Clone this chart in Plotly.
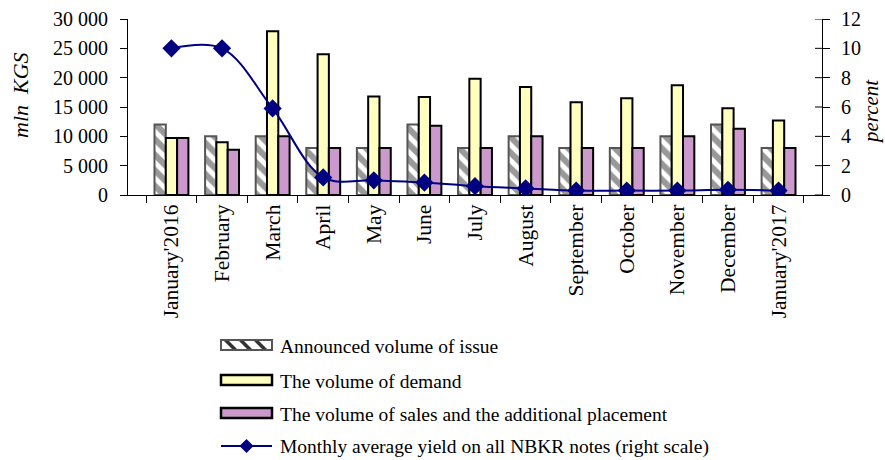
import plotly.graph_objects as go

months = ["January'2016", "February", "March", "April", "May", "June", "July",
          "August", "September", "October", "November", "December", "January'2017"]
announced = [12000, 10000, 10000, 8000, 8000, 12000, 8000, 10000, 8000, 8000, 10000, 12000, 8000]
demand = [9700, 9000, 27900, 24000, 16800, 16700, 19800, 18400, 15800, 16500, 18700, 14800, 12700]
sales = [9700, 7700, 10000, 8000, 8000, 11800, 8000, 10000, 8000, 8000, 10000, 11300, 8000]
yield_pct = [10.0, 10.0, 5.9, 1.2, 1.0, 0.85, 0.6, 0.45, 0.3, 0.3, 0.3, 0.35, 0.3]
pct_ticks = [0, 2, 4, 6, 8, 10, 12]

legend_labels = ["Announced volume of issue",
                 "The volume of demand",
                 "The volume of sales and the additional placement",
                 "Monthly average yield on all NBKR notes (right scale)"]

FONT = "Liberation Serif, Times New Roman, serif"
W, H = 885, 460
L, R, T, B = 128, 822, 19, 195          # plot area in pixels
NAVY = "#000080"
HATCH = "#333333"

def px(x):
    return (x - L) / (R - L)

def py(y):
    return (B - y) / (B - T)

fig = go.Figure()
fig.add_trace(go.Bar(
    x=months, y=announced, name=legend_labels[0],
    marker=dict(color="white", line=dict(color="#555555", width=2),
                pattern=dict(shape="\\", fgcolor=HATCH, bgcolor="white",
                             size=11, solidity=0.55)),
))
fig.add_trace(go.Bar(
    x=months, y=demand, name=legend_labels[1],
    marker=dict(color="#FFFFC0", line=dict(color="black", width=2)),
))
fig.add_trace(go.Bar(
    x=months, y=sales, name=legend_labels[2],
    marker=dict(color="#CC99CC", line=dict(color="black", width=2)),
))
fig.add_trace(go.Scatter(
    x=months, y=yield_pct, yaxis="y2", mode="lines+markers", name=legend_labels[3],
    line=dict(color=NAVY, width=2, shape="spline", smoothing=1),
    marker=dict(symbol="diamond", size=14, color=NAVY),
))

shapes = []
annotations = []

# inner half of the right-hand ticks (the axis draws the outer half)
for v in pct_ticks:
    shapes.append(dict(type="line", xref="paper", yref="y2", x0=px(R - 7), x1=1,
                       y0=v, y1=v, line=dict(color="black", width=1)))

# hand-drawn legend below the chart
rows = [345, 380, 413, 446]
sx0, sx1 = 221, 272
shapes.append(dict(type="rect", xref="paper", yref="paper",
                   x0=px(sx0), x1=px(sx1), y0=py(rows[0] + 5), y1=py(rows[0] - 5),
                   fillcolor="white", line=dict(color="#555555", width=2), layer="above"))
for s in (224, 239, 254):
    path = (f"M {px(s)},{py(rows[0] - 4)} L {px(s + 5)},{py(rows[0] - 4)} "
            f"L {px(s + 13)},{py(rows[0] + 4)} L {px(s + 8)},{py(rows[0] + 4)} Z")
    shapes.append(dict(type="path", xref="paper", yref="paper", path=path,
                       fillcolor=HATCH, line=dict(width=0), layer="above"))
for yy, fill in ((rows[1], "#FFFFC0"), (rows[2], "#CC99CC")):
    shapes.append(dict(type="rect", xref="paper", yref="paper",
                       x0=px(sx0), x1=px(sx1), y0=py(yy + 5), y1=py(yy - 5),
                       fillcolor=fill, line=dict(color="black", width=2.5), layer="above"))
shapes.append(dict(type="line", xref="paper", yref="paper",
                   x0=px(sx0), x1=px(sx1), y0=py(rows[3]), y1=py(rows[3]),
                   line=dict(color=NAVY, width=2)))
shapes.append(dict(type="path", xref="paper", yref="paper",
                   path=(f"M {px(246.5)},{py(rows[3] - 7)} L {px(253.5)},{py(rows[3])} "
                         f"L {px(246.5)},{py(rows[3] + 7)} L {px(239.5)},{py(rows[3])} Z"),
                   fillcolor=NAVY, line=dict(width=0)))
for yy, text in zip(rows, legend_labels):
    annotations.append(dict(x=px(278), y=py(yy + 1), xref="paper", yref="paper",
                            text=text, showarrow=False, xanchor="left", yanchor="middle",
                            font=dict(family=FONT, size=19.5, color="black")))

# axis titles
annotations.append(dict(x=px(21), y=py(95), xref="paper", yref="paper",
                        text="<i>mln  KGS</i>", textangle=-90, showarrow=False,
                        xanchor="center", yanchor="middle",
                        font=dict(family=FONT, size=22, color="black")))
annotations.append(dict(x=px(871), y=py(112), xref="paper", yref="paper",
                        text="<i>percent</i>", textangle=-90, showarrow=False,
                        xanchor="center", yanchor="middle",
                        font=dict(family=FONT, size=21, color="black")))

fig.update_layout(
    width=W, height=H,
    margin=dict(l=L, r=W - R, t=T, b=H - B, autoexpand=False),
    paper_bgcolor="white", plot_bgcolor="white",
    font=dict(family=FONT, size=20, color="black"),
    separators=". ",
    barmode="group", bargap=0.33, bargroupgap=0,
    showlegend=False,
    shapes=shapes, annotations=annotations,
    xaxis=dict(type="category", showline=True, linecolor="black", linewidth=1,
               ticks="outside", tickson="boundaries", ticklen=7, tickcolor="black",
               tickangle=-90, showgrid=False, automargin=False,
               tickfont=dict(size=21.5)),
    yaxis=dict(range=[0, 30000], dtick=5000, tickformat=",d", showline=True,
               linecolor="black", linewidth=1, ticks="outside", ticklen=7,
               tickcolor="black", showgrid=False, zeroline=False, automargin=False,
               ticklabelstandoff=8),
    yaxis2=dict(range=[0, 12], tickvals=pct_ticks, overlaying="y", side="right",
                showline=True, linecolor="black", linewidth=1, ticks="outside",
                ticklen=7, tickcolor="black", showgrid=False, zeroline=False,
                automargin=False, ticklabelstandoff=7),
)

fig.write_html("out.html")
